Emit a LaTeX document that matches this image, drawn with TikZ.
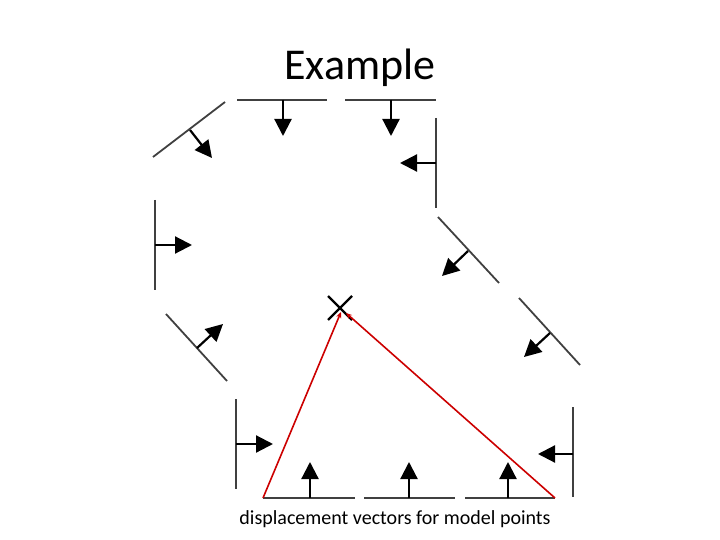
\documentclass[tikz,border=0pt]{standalone}
\usepackage{fontspec}
\setmainfont{Carlito}
\usetikzlibrary{arrows.meta}

\begin{document}
\begin{tikzpicture}[x=1pt, y=-1pt,
    edgeline/.style={draw=black!75, line width=1.8pt},
    disp/.style={draw=black, line width=2.2pt, -{Triangle[length=17pt, width=17pt]}},
    match/.style={draw=red!80!black, line width=1.6pt, -{Stealth[length=6pt, width=5pt]}}]
    \useasboundingbox (0,0) rectangle (720,540);

    \node (title) at (360,68) {\fontsize{44}{50}\selectfont Example};
    \node (caption) at (395,519) {\fontsize{20}{24}\selectfont displacement vectors for model points};

    % model edges: end / end / model point / displaced point
    \foreach \ax/\ay/\bx/\by/\mx/\my/\tx/\ty [count=\i] in {
        237/100/327/100/283/100/283/136,
        345/100/436/100/391/100/391/136,
        153/157/225/102/190/130/212/158,
        436/118/436/208/436/163/400/163,
        155/200/155/290/155/245/192/245,
        438/217/499/283/468/251/442/276,
        166/314/227/381/197/348/223/324,
        519/298/580/365/550/333/524/357,
        236/399/236/489/236/444/273/444,
        573/407/573/497/573/454/538/454,
        263/498/355/498/310/498/310/462,
        364/498/455/498/409/498/409/462,
        465/498/555/498/508/498/508/462}
    {
        \coordinate (e\i-a) at (\ax,\ay);
        \coordinate (e\i-b) at (\bx,\by);
        \coordinate (p\i) at (\mx,\my);
        \coordinate (q\i) at (\tx,\ty);
        \draw[edgeline] (e\i-a) -- (e\i-b);
        \draw[disp] (p\i) -- (q\i);
    }

    % centre estimate
    \coordinate (centre) at (340,308);
    \draw[black, line width=2.2pt] (328,296) -- (352,320) (352,296) -- (328,320);
    \coordinate (hitl) at (341,312);
    \coordinate (hitr) at (346,313);

    \draw[match] (e11-a) -- (hitl);
    \draw[match] (e13-b) -- (hitr);
\end{tikzpicture}
\end{document}
